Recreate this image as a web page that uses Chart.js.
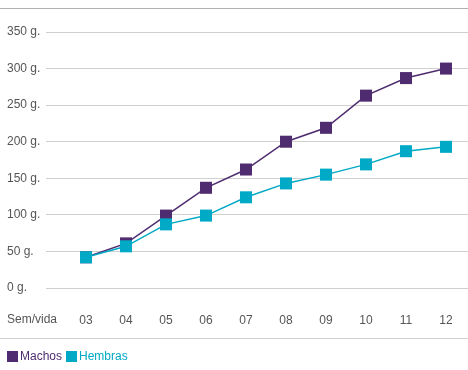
<!DOCTYPE html>
<html>
<head>
<meta charset="utf-8">
<script src="https://cdn.jsdelivr.net/npm/chart.js@4.4.1/dist/chart.umd.min.js"></script>
<style>
  html, body { margin: 0; padding: 0; background: #fff; }
  #wrap { width: 468px; height: 370px; }
</style>
</head>
<body>
<div id="wrap"><canvas id="chart" width="468" height="370"></canvas></div>
<script>
// Data
var weeks = ['03', '04', '05', '06', '07', '08', '09', '10', '11', '12'];
var machos = [42, 61, 99, 137, 162, 200, 219, 263, 287, 300];
var hembras = [42, 57, 87, 99, 124, 143, 155, 169, 187, 193];
var yTicks = [0, 50, 100, 150, 200, 250, 300, 350];

var purple = '#4f2c6f';
var cyan = '#00a9c6';
var textGray = '#555555';
var fontFamily = '"Liberation Sans", Arial, sans-serif';

function toPoints(values) {
    return values.map(function (v, i) {
        return { x: parseInt(weeks[i], 10), y: v };
    });
}

// Extra lines, the "Sem/vida" label and the legend
var decorations = {
    id: 'decorations',
    afterDraw: function (chart) {
        var ctx = chart.ctx;
        var w = chart.width;
        ctx.save();
        ctx.strokeStyle = '#b0b0b0';
        ctx.lineWidth = 1;
        ctx.beginPath();
        ctx.moveTo(0, 8.5);
        ctx.lineTo(w, 8.5);
        ctx.stroke();

        ctx.strokeStyle = '#d0d0d0';
        ctx.beginPath();
        ctx.moveTo(0, 338.5);
        ctx.lineTo(w, 338.5);
        ctx.stroke();

        ctx.font = '12px ' + fontFamily;
        ctx.textBaseline = 'middle';
        ctx.textAlign = 'left';
        ctx.fillStyle = textGray;
        ctx.fillText('Sem/vida', 7, 320);

        // legend
        var x = 7;
        var items = [['Machos', purple], ['Hembras', cyan]];
        items.forEach(function (it) {
            ctx.fillStyle = it[1];
            ctx.fillRect(x, 351, 11, 11);
            x += 13;
            ctx.fillText(it[0], x, 357);
            x += ctx.measureText(it[0]).width + 4;
        });
        ctx.restore();
    }
};

var ctx = document.getElementById('chart').getContext('2d');
var chart = new Chart(ctx, {
    type: 'line',
    data: {
        datasets: [{
            label: 'Machos',
            data: toPoints(machos),
            borderColor: purple,
            backgroundColor: purple,
            borderWidth: 1.5,
            pointStyle: 'rect',
            pointRadius: 8.5,
            pointBorderWidth: 0,
            order: 1
        }, {
            label: 'Hembras',
            data: toPoints(hembras),
            borderColor: cyan,
            backgroundColor: cyan,
            borderWidth: 1.5,
            pointStyle: 'rect',
            pointRadius: 8.5,
            pointBorderWidth: 0,
            order: 0
        }]
    },
    options: {
        responsive: false,
        animation: false,
        layout: { autoPadding: false, padding: { top: 32, left: 7, right: 0, bottom: 32 } },
        plugins: {
            legend: { display: false },
            tooltip: { enabled: false }
        },
        scales: {
            x: {
                type: 'linear',
                min: 2,
                max: 12.55,
                afterBuildTicks: function (scale) {
                    scale.ticks = weeks.map(function (w) { return { value: parseInt(w, 10) }; });
                },
                afterFit: function (scale) {
                    scale.height = 50;
                    scale.paddingLeft = 0;
                    scale.paddingRight = 0;
                },
                grid: { display: false },
                border: { display: false },
                ticks: {
                    padding: 17,
                    maxRotation: 0,
                    autoSkip: false,
                    color: textGray,
                    font: { family: fontFamily, size: 12 },
                    callback: function (v) { return (v < 10 ? '0' : '') + v; }
                }
            },
            y: {
                min: 0,
                max: 350,
                afterBuildTicks: function (scale) {
                    scale.ticks = yTicks.map(function (v) { return { value: v }; });
                },
                afterFit: function (scale) { scale.width = 39; },
                grid: { color: '#d0d0d0', drawTicks: false, lineWidth: 1 },
                border: { display: false },
                ticks: {
                    crossAlign: 'far',
                    color: textGray,
                    font: { family: fontFamily, size: 12 },
                    callback: function (v) { return v + ' g.'; }
                }
            }
        }
    },
    plugins: [decorations]
});
</script>
</body>
</html>
